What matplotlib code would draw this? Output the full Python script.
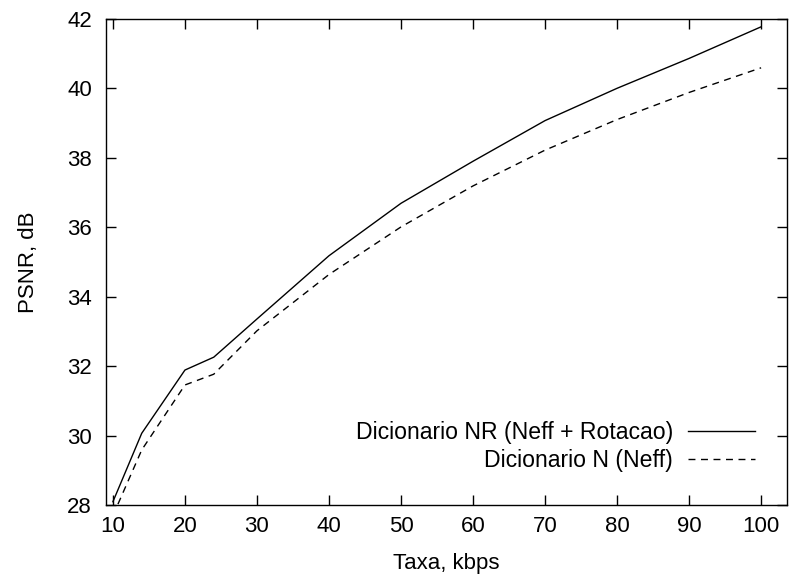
import matplotlib
matplotlib.use('Agg')
import matplotlib.pyplot as plt

# PSNR vs rate, two dictionaries
taxa = [10, 14, 20, 24, 30, 40, 50, 60, 70, 80, 90, 100]
psnr_nr = [28.1, 30.07, 31.89, 32.26, 33.36, 35.18, 36.69, 37.90, 39.07, 40.0, 40.86, 41.77]
psnr_n = [27.7, 29.59, 31.46, 31.77, 33.02, 34.64, 36.01, 37.19, 38.22, 39.1, 39.88, 40.59]

label_nr = 'Dicionario NR (Neff + Rotacao)'
label_n = 'Dicionario N (Neff)'

plt.rcParams['font.family'] = ['Liberation Sans', 'DejaVu Sans']
plt.rcParams['font.size'] = 16

fig = plt.figure(figsize=(7.89, 5.79), dpi=100)
ax = fig.add_axes([0.134, 0.1275, 0.8635, 0.84])

ax.plot(taxa, psnr_nr, 'k-', linewidth=1.0, label=label_nr)
ax.plot(taxa, psnr_n, 'k--', linewidth=1.0, dashes=(5, 4), label=label_n)

ax.set_xlim(9, 103.6)
ax.set_ylim(28, 42)
ax.set_xticks(range(10, 101, 10))
ax.set_yticks(range(28, 43, 2))
ax.tick_params(direction='in', length=7.5, width=1, top=True, right=True,
               labelsize=16)
ax.tick_params(axis='x', pad=8)
ax.tick_params(axis='y', pad=10)
for s in ax.spines.values():
    s.set_linewidth(1)

ax.set_xlabel('Taxa, kbps', fontsize=16, labelpad=11)
ax.set_ylabel('PSNR, dB', fontsize=16, labelpad=20)

ax.legend(loc='lower right', bbox_to_anchor=(0.966, 0.05), frameon=False,
          markerfirst=False, handlelength=2.9, handletextpad=0.65,
          labelspacing=0.2, fontsize=16.6, borderaxespad=0)

fig.savefig('out.png', dpi=100)
